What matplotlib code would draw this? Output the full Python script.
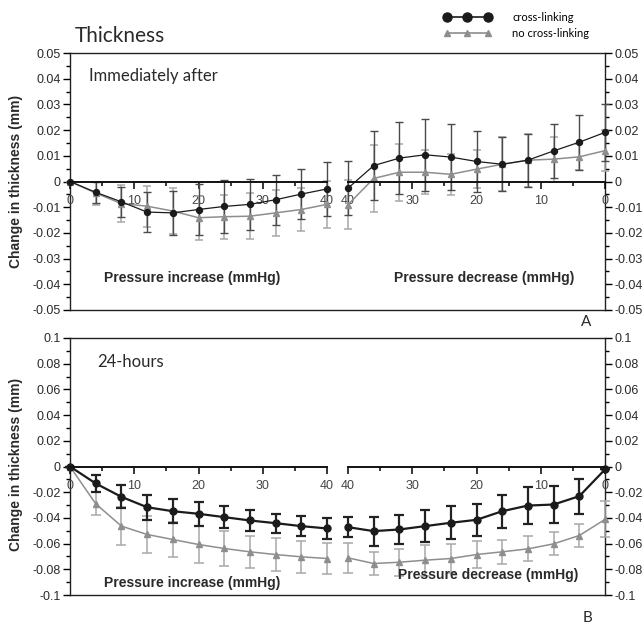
import numpy as np
import matplotlib
matplotlib.use("Agg")
import matplotlib.pyplot as plt
from matplotlib.lines import Line2D
from matplotlib.legend_handler import HandlerLine2D
from matplotlib.ticker import MultipleLocator, FuncFormatter

# ── Data (mm change in corneal thickness, mean and SD) ──────────────────────
pressure_inc = [0, 4, 8, 12, 16, 20, 24, 28, 32, 36, 40]
pressure_dec = [40, 36, 32, 28, 24, 20, 16, 12, 8, 4, 0]

# Immediately after
imm_xl_inc = [0, -0.0042, -0.0079, -0.0119, -0.0122, -0.0109, -0.0097, -0.0089, -0.0071, -0.0049, -0.0029]
imm_xl_inc_sd = [0, 0.004, 0.0058, 0.0078, 0.0085, 0.0101, 0.0102, 0.0099, 0.0098, 0.0098, 0.0104]
imm_noxl_inc = [0, -0.0045, -0.0086, -0.0096, -0.0115, -0.0141, -0.0137, -0.0135, -0.0122, -0.0109, -0.0089]
imm_noxl_inc_sd = [0, 0.0045, 0.0072, 0.008, 0.009, 0.0085, 0.0085, 0.009, 0.009, 0.0085, 0.009]
imm_xl_dec = [-0.0026, 0.0062, 0.0091, 0.0104, 0.0095, 0.0078, 0.0067, 0.0083, 0.0119, 0.0153, 0.0191]
imm_xl_dec_sd = [0.0104, 0.0133, 0.014, 0.014, 0.013, 0.012, 0.0105, 0.0103, 0.0106, 0.0107, 0.011]
imm_noxl_dec = [-0.009, 0.0012, 0.0036, 0.0036, 0.0028, 0.0048, 0.0067, 0.0083, 0.0087, 0.0096, 0.012]
imm_noxl_dec_sd = [0.0095, 0.013, 0.011, 0.0085, 0.008, 0.0075, 0.0105, 0.0103, 0.0088, 0.005, 0.008]

# 24 hours
h24_xl_inc = [0, -0.0132, -0.0236, -0.0317, -0.0348, -0.0368, -0.0394, -0.042, -0.0441, -0.0464, -0.0482]
h24_xl_inc_sd = [0, 0.0068, 0.009, 0.0098, 0.0095, 0.0095, 0.0085, 0.008, 0.0075, 0.008, 0.0083]
h24_noxl_inc = [0, -0.029, -0.0464, -0.0529, -0.0568, -0.0607, -0.0638, -0.0664, -0.0685, -0.0703, -0.0716]
h24_noxl_inc_sd = [0, 0.0088, 0.0145, 0.0147, 0.0135, 0.0143, 0.0135, 0.0125, 0.0125, 0.0123, 0.0117]
h24_xl_dec = [-0.0472, -0.0503, -0.049, -0.0464, -0.0438, -0.0415, -0.0348, -0.0304, -0.0296, -0.0231, -0.0023]
h24_xl_dec_sd = [0.008, 0.0113, 0.0112, 0.0123, 0.013, 0.0124, 0.013, 0.0142, 0.0142, 0.0136, 0]
h24_noxl_dec = [-0.0711, -0.0755, -0.0745, -0.0729, -0.0716, -0.0685, -0.0664, -0.0641, -0.0602, -0.0537, -0.0412]
h24_noxl_dec_sd = [0.0117, 0.0093, 0.0105, 0.012, 0.011, 0.0104, 0.0095, 0.0098, 0.009, 0.0087, 0.014]

series_labels = ["cross-linking", "no cross-linking"]

# ── Style ───────────────────────────────────────────────────────────────────
BLACK = "#1b1b1b"
GRAY = "#8e8e8e"
GRAY_ERR = "#a8a8a8"
TXT = "#2a2a2a"
SANS = "Liberation Sans"
TITLE = "Lato"

W, H = 644, 625


def box(x0, y0, x1, y1):
    # pixel box (origin top-left) -> figure fraction rect
    return [x0 / W, 1 - y1 / H, (x1 - x0) / W, (y1 - y0) / H]


def fmt(v, pos):
    if abs(v) < 1e-9:
        return "0"
    return f"{round(v, 3):g}"


def draw_series(ax, x, y, sd, color, ecolor, marker, ms, lw, elw, cap):
    eb = ax.errorbar(x, y, yerr=sd, color=color, ecolor=ecolor, marker=marker,
                     ms=ms, lw=lw, elinewidth=elw, capsize=cap, capthick=elw,
                     mec=color, mfc=color)
    for art in eb.get_children():
        art.set_clip_on(False)


def panel(fig, top, bottom, ylim, major, minor, inc, dec, heavy):
    frame = fig.add_axes(box(70, top, 605, bottom))
    frame.set_xlim(0, 1)
    frame.set_ylim(*ylim)
    frame.set_xticks([])
    frame.yaxis.set_major_locator(MultipleLocator(major))
    frame.yaxis.set_minor_locator(MultipleLocator(minor))
    frame.yaxis.set_major_formatter(FuncFormatter(fmt))
    frame.yaxis.set_ticks_position("both")
    frame.tick_params(axis="y", which="both", direction="out", labelright=True,
                      labelsize=9, labelcolor=TXT, pad=1.5, width=1)
    frame.tick_params(axis="y", which="major", length=5)
    frame.tick_params(axis="y", which="minor", length=3)
    for sp in frame.spines.values():
        sp.set_linewidth(1.0)
        sp.set_color("#222222")
    for lab in frame.get_yticklabels():
        lab.set_family(SANS)

    lw_b = 1.6 if heavy else 0.9
    elw_b = 1.6 if heavy else 1.0
    ms_b = 5 if heavy else 4.3
    cap = 3.5 if heavy else 3
    ecol_b = "#222222" if heavy else "#4a4a4a"

    for (x0, x1), xlim, x, data in [((70, 327), (0, 40), pressure_inc, inc),
                                    ((348, 605), (40, 0), pressure_dec, dec)]:
        ax = fig.add_axes(box(x0, top, x1, bottom), facecolor="none")
        ax.set_xlim(*xlim)
        ax.set_ylim(*ylim)
        ax.set_yticks([])
        for name in ["top", "right", "left"]:
            ax.spines[name].set_visible(False)
        ax.spines["bottom"].set_position(("data", 0))
        ax.spines["bottom"].set_linewidth(1.4)
        ax.spines["bottom"].set_color("#111111")
        ax.xaxis.set_major_locator(MultipleLocator(10))
        ax.xaxis.set_minor_locator(MultipleLocator(5))
        ax.tick_params(axis="x", which="both", direction="out", width=1.1,
                       labelsize=9, labelcolor="#444444", pad=5)
        ax.tick_params(axis="x", which="major", length=5)
        ax.tick_params(axis="x", which="minor", length=3)
        for lab in ax.get_xticklabels():
            lab.set_family(SANS)

        (y_xl, sd_xl), (y_no, sd_no) = data
        draw_series(ax, x, y_no, sd_no, GRAY, GRAY_ERR, "^", 4, 1.1, 1.1, cap)
        draw_series(ax, x, y_xl, sd_xl, BLACK, ecol_b, "o", ms_b, lw_b, elw_b, cap)
    return frame


fig = plt.figure(figsize=(W / 100, H / 100), dpi=100)

panel(fig, 53, 310, (-0.05, 0.05), 0.01, 0.005,
      ((imm_xl_inc, imm_xl_inc_sd), (imm_noxl_inc, imm_noxl_inc_sd)),
      ((imm_xl_dec, imm_xl_dec_sd), (imm_noxl_dec, imm_noxl_dec_sd)), heavy=False)
panel(fig, 338, 595, (-0.1, 0.1), 0.02, 0.01,
      ((h24_xl_inc, h24_xl_inc_sd), (h24_noxl_inc, h24_noxl_inc_sd)),
      ((h24_xl_dec, h24_xl_dec_sd), (h24_noxl_dec, h24_noxl_dec_sd)), heavy=True)

# ── Texts ───────────────────────────────────────────────────────────────────
def ftext(x, y, s, **kw):
    fig.text(x / W, 1 - y / H, s, **kw)

ftext(75, 36, "Thickness", fontsize=15, family=TITLE, color=TXT, va="center")
ftext(89, 76, "Immediately after", fontsize=12, family=TITLE, color=TXT, va="center")
ftext(97, 362, "24-hours", fontsize=12, family=TITLE, color=TXT, va="center")
ftext(586, 322, "A", fontsize=11, family=TITLE, color=TXT, ha="center", va="center")
ftext(587, 618, "B", fontsize=11, family=TITLE, color=TXT, ha="center", va="center")

for yc in (181, 464):
    ftext(16, yc, "Change in thickness (mm)", rotation=90, fontsize=10, weight="bold",
          family=SANS, color=TXT, ha="center", va="center")

ftext(192, 278, "Pressure increase (mmHg)", fontsize=10, weight="bold", family=SANS,
      color=TXT, ha="center", va="center")
ftext(484, 278, "Pressure decrease (mmHg)", fontsize=10, weight="bold", family=SANS,
      color=TXT, ha="center", va="center")
ftext(192, 583, "Pressure increase (mmHg)", fontsize=10, weight="bold", family=SANS,
      color=TXT, ha="center", va="center")
ftext(488, 575, "Pressure decrease (mmHg)", fontsize=10, weight="bold", family=SANS,
      color=TXT, ha="center", va="center")

# ── Legend ──────────────────────────────────────────────────────────────────
handles = [Line2D([], [], color=BLACK, marker="o", ms=6.5, lw=1.2),
           Line2D([], [], color=GRAY, marker="^", ms=5, lw=1.2)]
fig.legend(handles, series_labels, loc="upper left", bbox_to_anchor=(438 / W, 1 - 12 / H),
           frameon=False, numpoints=3, handlelength=5.3, handletextpad=1.4,
           labelspacing=0.45, borderpad=0, borderaxespad=0,
           prop={"family": TITLE, "size": 8},
           handler_map={Line2D: HandlerLine2D(marker_pad=0.8, numpoints=3)})

fig.savefig("out.png", dpi=100)
